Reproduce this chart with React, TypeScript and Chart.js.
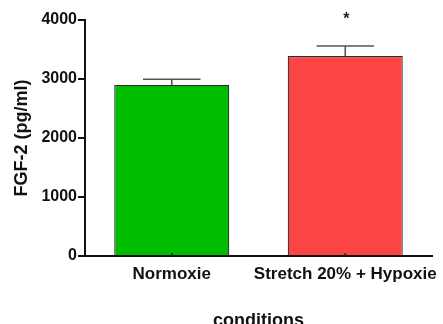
import React, { useEffect, useRef } from "react";
import { Chart, registerables } from "chart.js";

Chart.register(...registerables);

const categories = ["Normoxie", "Stretch 20% + Hypoxie"];
const means = [2900, 3390];
const errors = [95, 170];
const significance = ["", "*"];
const barColors = ["#00bd00", "#fb4444"];
const yTicks = [0, 1000, 2000, 3000, 4000];

const FONT = "'Liberation Sans', Arial, Helvetica, sans-serif";

const errorBarPlugin = {
  id: "errorBars",
  afterDatasetsDraw(chart: any) {
    const { ctx, scales } = chart;
    const meta = chart.getDatasetMeta(0);
    const y = scales.y;
    ctx.save();
    meta.data.forEach((bar: any, i: number) => {
      const x = bar.x;
      const top = y.getPixelForValue(means[i]);
      const errTop = y.getPixelForValue(means[i] + errors[i]);
      const half = bar.width / 4;
      ctx.strokeStyle = "#555";
      ctx.lineWidth = 1.6;
      ctx.beginPath();
      ctx.moveTo(x, top);
      ctx.lineTo(x, errTop);
      ctx.moveTo(x - half, errTop);
      ctx.lineTo(x + half, errTop);
      ctx.stroke();
      // small inward x tick
      ctx.strokeStyle = "#222";
      ctx.lineWidth = 1.5;
      ctx.beginPath();
      ctx.moveTo(x, y.getPixelForValue(0));
      ctx.lineTo(x, y.getPixelForValue(0) - 3);
      ctx.stroke();
      if (significance[i]) {
        ctx.fillStyle = "#222";
        ctx.font = `bold 16px ${FONT}`;
        ctx.textAlign = "center";
        ctx.textBaseline = "middle";
        ctx.fillText(significance[i], x + 1, errTop - 26);
      }
    });
    ctx.restore();
  },
};

export default function App() {
  const ref = useRef<HTMLCanvasElement>(null);
  useEffect(() => {
    if (!ref.current) return;
    const chart = new Chart(ref.current, {
      type: "bar",
      data: {
        labels: categories,
        datasets: [
          {
            data: means,
            backgroundColor: barColors,
            borderColor: "#2a2a2a",
            borderWidth: 1.2,
            borderSkipped: "bottom",
            categoryPercentage: 1,
            barPercentage: 0.663,
          },
        ],
      },
      options: {
        animation: false,
        responsive: false,
        maintainAspectRatio: false,
        layout: { padding: { left: 0, top: 20, right: 11, bottom: 0 } },
        plugins: { legend: { display: false }, tooltip: { enabled: false } },
        scales: {
          x: {
            border: { color: "#111", width: 2 },
            grid: { display: true, drawOnChartArea: false, drawTicks: false },
            ticks: {
              color: "#111",
              padding: 8,
              maxRotation: 0,
              autoSkip: false,
              font: { family: FONT, size: 17, weight: "bold" },
            },
            title: {
              display: true,
              text: "conditions",
              color: "#111",
              padding: { top: 0, bottom: 0 },
              font: { family: FONT, size: 18, weight: "bold", lineHeight: 0.3 },
            },
            afterFit(scale: any) {
              scale.height = 68;
              scale.paddingLeft = 0;
              scale.paddingRight = 0;
            },
          },
          y: {
            min: 0,
            max: 4000,
            border: { color: "#111", width: 2 },
            grid: {
              display: true,
              drawOnChartArea: false,
              drawTicks: true,
              tickLength: 7,
              color: "#111",
              lineWidth: 2,
            },
            afterBuildTicks(scale: any) {
              scale.ticks = yTicks.map((v) => ({ value: v }));
            },
            ticks: {
              color: "#111",
              padding: 1,
              callback: (v: any) => String(v),
              font: { family: FONT, size: 16, weight: "bold" },
            },
            title: {
              display: true,
              text: "FGF-2 (pg/ml)",
              color: "#111",
              padding: { top: 11, bottom: 0 },
              font: { family: FONT, size: 18, weight: "bold" },
            },
            afterFit(scale: any) {
              scale.width = 85;
              scale.paddingTop = 0;
              scale.paddingBottom = 0;
            },
          },
        },
      },
      plugins: [errorBarPlugin],
    });
    return () => chart.destroy();
  }, []);
  return (
    <div style={{ position: "fixed", left: 0, top: 0, width: 443, height: 324, background: "#fff" }}>
      <canvas ref={ref} width={443} height={324} style={{ display: "block" }} />
    </div>
  );
}
